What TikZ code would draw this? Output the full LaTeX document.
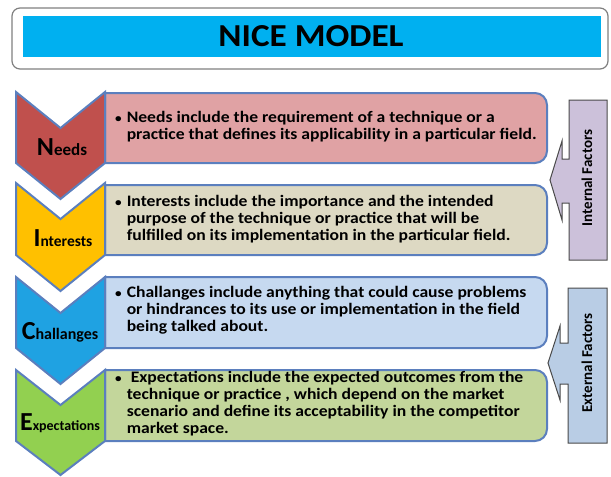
\documentclass[tikz,border=0pt]{standalone}
\usepackage{fontspec}
\setmainfont{Carlito}
\newfontfamily\widefont[FakeStretch=1.1]{Carlito}
\usepackage{tikz}
\usepackage{xcolor}
\definecolor{titlecyan}{HTML}{00B0F0}
\definecolor{rowline}{HTML}{5B7FBE}
\definecolor{sideline}{HTML}{4A4A4A}
\definecolor{needsred}{HTML}{C0504D}
\definecolor{needsbox}{HTML}{E0A2A4}
\definecolor{intyellow}{HTML}{FFC000}
\definecolor{intbox}{HTML}{DDD9C3}
\definecolor{chalblue}{HTML}{1FA2E2}
\definecolor{chalbox}{HTML}{C6D9F0}
\definecolor{expgreen}{HTML}{92D050}
\definecolor{expbox}{HTML}{C3D69B}
\definecolor{intlilac}{HTML}{CCC1DA}
\definecolor{extblue}{HTML}{B9CDE5}
\newcommand{\rowdot}{{\fontsize{12}{12}\selectfont\textbullet}}
\tikzset{
  chev/.style={draw=rowline, line width=2pt, line join=miter},
  rowbox/.style={draw=rowline, line width=2pt},
  rowtext/.style={anchor=west, inner sep=0pt, font=\widefont\bfseries\fontsize{16}{17}\selectfont},
  chevlabel/.style={anchor=base, inner sep=0pt, font=\bfseries},
  sidebox/.style={draw=sideline, line width=1pt},
  sidetext/.style={rotate=90, inner sep=0pt, font=\bfseries\fontsize{15}{18}\selectfont},
}

\begin{document}
\begin{tikzpicture}[x=1pt, y=-1pt]

                \useasboundingbox (0, 0) rectangle (611, 477);

                % title bar
                \draw[draw=gray, line width=1.2pt, rounded corners=8pt, fill=white]
                  (12, 8) rectangle (608, 69);
                \fill[titlecyan] (23, 16) rectangle (601, 57);
                \node[font=\widefont\bfseries\fontsize{32}{36}\selectfont] (title) at (311, 36)
                  {NICE MODEL};

                % Needs
                \draw[rowbox, fill=needsbox] (300, 93) [rounded corners=12pt] -- (547, 93)
                  -- (547, 163) -- (300, 163) [sharp corners] -- (105, 163) -- (105, 93) -- cycle;
                \draw[chev, fill=needsred, shift={(0, 92)}]
                  (16, 0) -- (60.5, 36) -- (105, 0) -- (105, 71) -- (60.5, 107) -- (16, 71) -- cycle;
                \node[chevlabel] (needslabel) at (62, 155)
                  {\fontsize{26}{26}\selectfont N\fontsize{17}{17}\selectfont eeds};
                \node[rowtext] (needstext) at (115, 128)
                  {\begin{tabular}{@{}l@{\hspace{5pt}}l@{}}
                    \rowdot & Needs include the requirement of a technique or a\\
                    & practice that defines its applicability in a particular field.
                  \end{tabular}};

                % Interests
                \draw[rowbox, fill=intbox] (300, 185) [rounded corners=12pt] -- (547, 185)
                  -- (547, 255) -- (300, 255) [sharp corners] -- (105, 255) -- (105, 185) -- cycle;
                \draw[chev, fill=intyellow, shift={(0, 183)}]
                  (16, 0) -- (60.5, 36) -- (105, 0) -- (105, 72) -- (60.5, 108) -- (16, 72) -- cycle;
                \node[chevlabel] (intlabel) at (63, 246)
                  {\fontsize{26}{26}\selectfont I\fontsize{15.5}{15.5}\selectfont nterests};
                \node[rowtext] (inttext) at (115, 220)
                  {\begin{tabular}{@{}l@{\hspace{5pt}}l@{}}
                    \rowdot & Interests include the importance and the intended\\
                    & purpose of the technique or practice that will be\\
                    & fulfilled on its implementation in the particular field.
                  \end{tabular}};

                % Challanges
                \draw[rowbox, fill=chalbox] (300, 277) [rounded corners=12pt] -- (547, 277)
                  -- (547, 348) -- (300, 348) [sharp corners] -- (105, 348) -- (105, 277) -- cycle;
                \draw[chev, fill=chalblue, shift={(0, 277)}]
                  (16, 0) -- (60.5, 36) -- (105, 0) -- (105, 71) -- (60.5, 107) -- (16, 71) -- cycle;
                \node[chevlabel] (challabel) at (60, 339)
                  {\fontsize{26}{26}\selectfont C\fontsize{16}{16}\selectfont hallanges};
                \node[rowtext] (chaltext) at (115, 311)
                  {\begin{tabular}{@{}l@{\hspace{5pt}}l@{}}
                    \rowdot & Challanges include anything that could cause problems\\
                    & or hindrances to its use or implementation in the field\\
                    & being talked about.
                  \end{tabular}};

                % Expectations
                \draw[rowbox, fill=expbox] (300, 370) [rounded corners=12pt] -- (547, 370)
                  -- (547, 441) -- (300, 441) [sharp corners] -- (105, 441) -- (105, 370) -- cycle;
                \draw[chev, fill=expgreen, shift={(0, 370)}]
                  (16, 0) -- (60.5, 35) -- (105, 0) -- (105, 71) -- (60.5, 105) -- (16, 71) -- cycle;
                \node[chevlabel] (explabel) at (60, 430)
                  {\fontsize{26}{26}\selectfont E\fontsize{14}{14}\selectfont xpectations};
                \node[rowtext] (exptext) at (115, 405)
                  {\begin{tabular}{@{}l@{\hspace{5pt}}l@{}}
                    \rowdot & \hspace{4pt}Expectations include the expected outcomes from the\\
                    & technique or practice , which depend on the market\\
                    & scenario and define its acceptability in the competitor\\
                    & market space.
                  \end{tabular}};

                % side callouts
                \draw[sidebox, fill=intlilac]
                  (607, 100) -- (569, 100) -- (569, 159) -- (562, 159) -- (562, 141) -- (550, 180)
                  -- (562, 220) -- (562, 203) -- (569, 203) -- (569, 260) -- (607, 260) -- cycle;
                \node[sidetext] (internal) at (587, 178) {Internal Factors};

                \draw[sidebox, fill=extblue]
                  (607, 288) -- (568, 288) -- (568, 343) -- (560, 343) -- (560, 326) -- (548, 363)
                  -- (560, 400) -- (560, 384) -- (568, 384) -- (568, 443) -- (607, 443) -- cycle;
                \node[sidetext] (external) at (587, 363) {External Factors};

\end{tikzpicture}
\end{document}
